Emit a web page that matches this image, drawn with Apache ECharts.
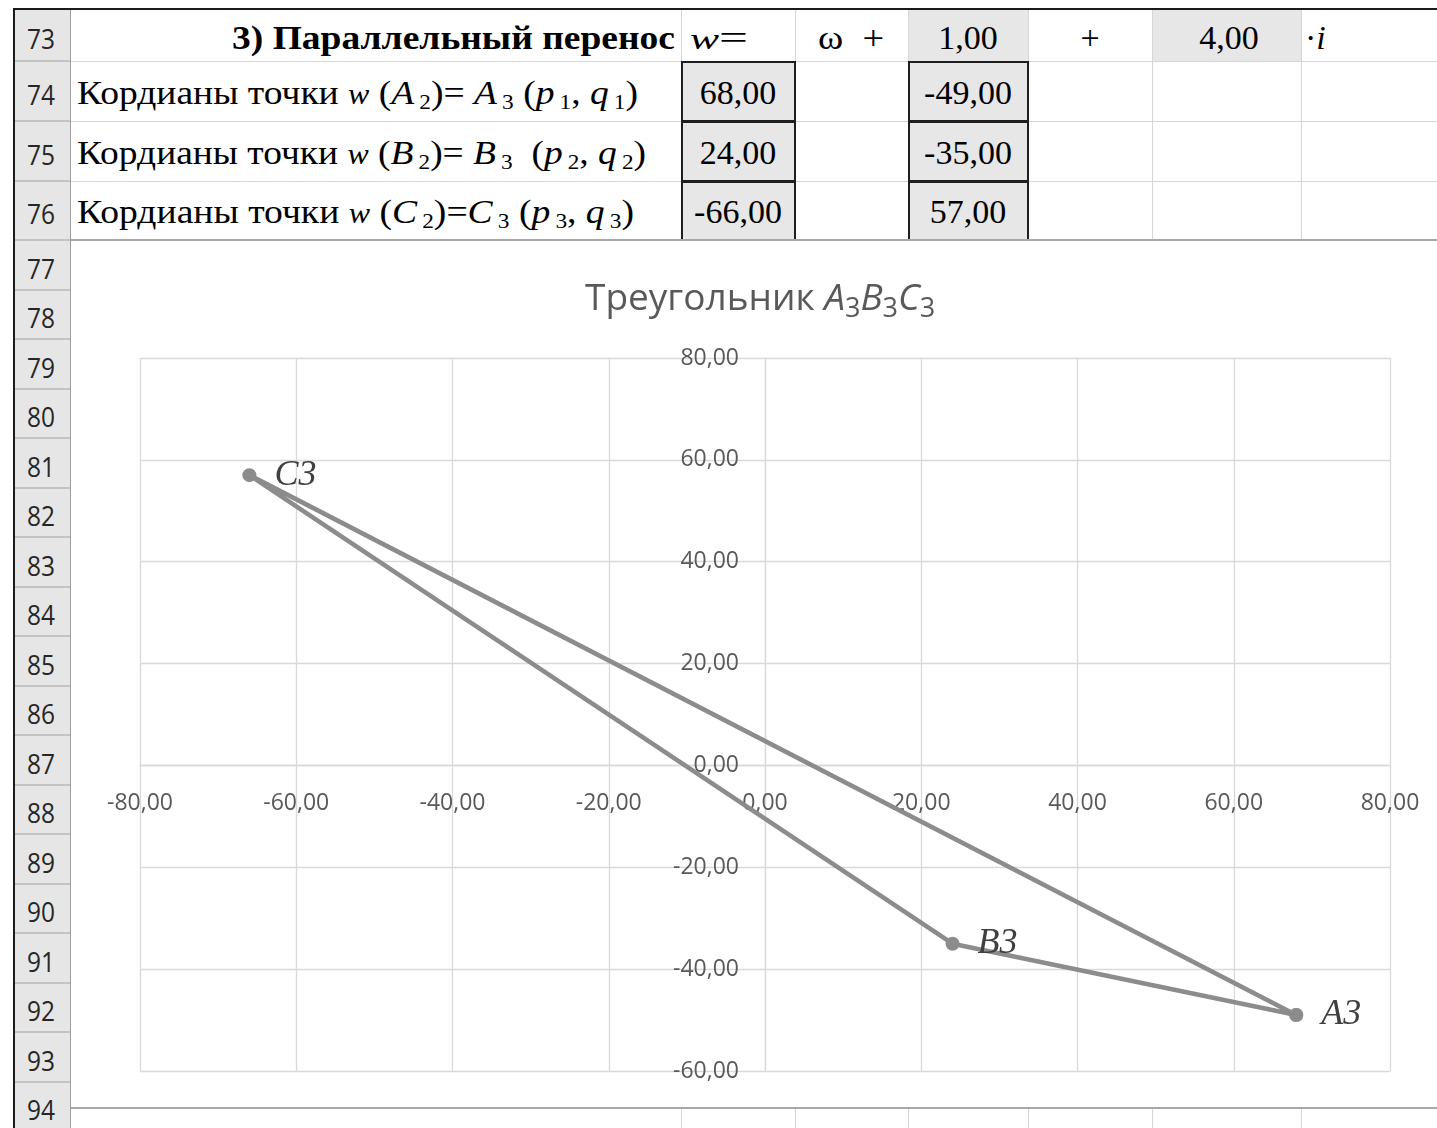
<!DOCTYPE html>
<html><head><meta charset="utf-8">
<script src="https://cdn.jsdelivr.net/npm/echarts@6/dist/echarts.min.js"></script>
<style>
html,body{margin:0;padding:0;background:#fff;width:1437px;height:1128px;overflow:hidden;position:relative}
.box{position:absolute;box-sizing:border-box}
.t{position:absolute;white-space:nowrap;line-height:1;font-family:'Liberation Serif','Times New Roman',serif;font-size:34px;color:#000;transform-origin:0 50%}
.rn{position:absolute;white-space:nowrap;line-height:1;font-family:'Open Sans',sans-serif;font-size:27px;color:#262626;transform-origin:0 50%}
.s{font-size:0.62em;position:relative;top:0.22em;margin-left:0.22em}
.w{font-size:0.85em}
b{font-weight:bold}
</style></head><body>
<div id="sheet"></div>
<div id="chart" style="position:absolute;left:71px;top:242px;width:1366px;height:865px;background:#fff"></div>
<script>
// ---------- data ----------
const pointLetters = ['A', 'B', 'C'];
const pointLabels = ['A3', 'B3', 'C3'];
const pValues = [68, 24, -66];
const qValues = [-49, -35, 57];
const shiftRe = 1;
const shiftIm = 4;
const rowNumbers = [73,74,75,76,77,78,79,80,81,82,83,84,85,86,87,88,89,90,91,92,93,94];
const xRange = [-80, 80];
const yRange = [-60, 80];
const tickStep = 20;

// ---------- helpers ----------
const fmt = v => v.toFixed(2).replace('.', ',');
const sheet = document.getElementById('sheet');
function box(x, y, w, h, css) {
  const d = document.createElement('div');
  d.className = 'box';
  d.style.cssText += `left:${x}px;top:${y}px;width:${w}px;height:${h}px;` + (css || '');
  sheet.appendChild(d);
  return d;
}
const texts = [];
function txt(html, o) {
  const d = document.createElement('div');
  d.className = o.cls || 't';
  d.innerHTML = html;
  if (o.css) d.style.cssText += o.css;
  sheet.appendChild(d);
  texts.push({el: d, o});
}
function layoutTexts() {
  texts.forEach(({el, o}) => {
    el.style.transform = 'none';
    const r = el.getBoundingClientRect();
    const nw = r.width, nh = r.height;
    const w = o.w || nw;
    const k = o.w ? o.w / nw : 1;
    const left = o.x0 !== undefined ? o.x0 : o.cx - w / 2;
    el.style.left = left + 'px';
    el.style.top = (o.yc - nh / 2) + 'px';
    el.style.transform = `scaleX(${k})`;
  });
}

// ---------- sheet geometry ----------
const colX = [681, 795, 908, 1028, 1152, 1301];
const rowTops = [10, 61, 121, 181, 240];
for (let k = 1; k <= 18; k++) rowTops.push(Math.round(240 + k * 49.5));

// header column
box(15, 10, 55, 1118, 'background:#e6e6e6');
rowTops.slice(1).forEach(y => box(15, y - 1, 55, 2, 'background:#c3c3c3'));
box(70, 10, 1, 1118, 'background:#9e9e9e');
// frame
box(13, 8, 2, 1120, 'background:#1a1a1a');
box(13, 8, 1424, 2, 'background:#1a1a1a');

// fills row 73
box(908, 10, 120, 51, 'background:#e7e7e7');
box(1152, 10, 149, 51, 'background:#e7e7e7');
// gridlines rows 73-76
[61, 121, 181].forEach(y => box(71, y, 1366, 1, 'background:#d6d6d6'));
colX.forEach(x => box(x, 10, 1, 230, 'background:#d6d6d6'));
colX.forEach(x => box(x, 1109, 1, 19, 'background:#d6d6d6'));
// bordered value cells
[[681, 795], [908, 1028]].forEach(([a, b]) => {
  [61, 121, 181].forEach((y, i) => {
    const y2 = [121, 181, 240][i];
    box(a, y, b - a + 1, y2 - y + 1, 'background:#e7e7e7;border:2px solid #1e1e1e');
  });
});
// chart object border
box(71, 239, 1366, 2, 'background:#a8a8a8');
box(71, 1107, 1366, 2, 'background:#a8a8a8');

// row numbers
rowNumbers.forEach((n, i) => {
  const yc = (rowTops[i] + (rowTops[i + 1] || 1128)) / 2 + 3;
  txt(String(n), {cls: 'rn', cx: 41, yc, w: 28});
});

// row 73
txt('<b>3) Параллельный перенос</b>', {x0: 232, w: 443, yc: 38});
txt('<i class="w">w</i>=', {x0: 690, w: 58, yc: 38});
txt('ω&nbsp; +', {x0: 818, w: 66, yc: 38});
txt(fmt(shiftRe), {cx: 968, yc: 38});
txt('+', {cx: 1090, yc: 38});
txt(fmt(shiftIm), {cx: 1229, yc: 38});
txt('·<i>i</i>', {x0: 1305, yc: 38});

// rows 74-76
const rowYc = [93, 153, 212];
const rowW = [561, 569, 557];
pointLetters.forEach((L, i) => {
  const n = i + 1;
  const mid = i === 2 ? `)=<i>${L}</i><span class="s">3</span>` :
    (i === 1 ? `)= <i>${L}</i><span class="s">3</span>&nbsp;` : `)= <i>${L}</i><span class="s">3</span>`);
  const html = `Кордианы точки <i class="w">w</i> (<i>${L}</i><span class="s">2</span>${mid} (<i>p</i><span class="s">${n}</span>, <i>q</i><span class="s">${n}</span>)`;
  txt(html, {x0: 77, w: rowW[i], yc: rowYc[i]});
  txt(fmt(pValues[i]), {cx: 738, yc: rowYc[i]});
  txt(fmt(qValues[i]), {cx: 968, yc: rowYc[i]});
});

layoutTexts();
if (document.fonts && document.fonts.ready) document.fonts.ready.then(layoutTexts);

// ---------- chart ----------
const chartEl = document.getElementById('chart');
const chart = echarts.init(chartEl, null, {renderer: 'canvas'});
const G = {left: 69, right: 47, top: 116, bottom: 36};
const plotW = chartEl.clientWidth - G.left - G.right;
const plotH = chartEl.clientHeight - G.top - G.bottom;
// axes cross at zero: shift each axis from its edge to the other axis' zero
const xAxisOffset = -plotH * (0 - yRange[0]) / (yRange[1] - yRange[0]);
const yAxisOffset = -plotW * (0 - xRange[0]) / (xRange[1] - xRange[0]);

const seriesData = pValues.map((p, i) => ({value: [p, qValues[i]], name: pointLabels[i]}));
seriesData.push({value: [pValues[0], qValues[0]], name: '', label: {show: false}});
const axisFont = {fontFamily: 'Open Sans', fontSize: 23, color: '#595959'};
const gridColor = '#d9d9d9';
chart.setOption({
  animation: false,
  title: {
    text: 'Треугольник ' + pointLetters.map(l => `{i|${l}}{s|3}`).join(''),
    left: 514, top: 34, padding: 0,
    textStyle: {
      fontFamily: 'Open Sans', fontSize: 37, fontWeight: 'normal', color: '#595959',
      rich: {
        i: {fontFamily: 'Open Sans', fontStyle: 'italic', fontSize: 37, color: '#595959'},
        s: {fontFamily: 'Open Sans', fontSize: 27, color: '#595959', padding: [20, 0, 0, 0]}
      }
    }
  },
  grid: Object.assign({containLabel: false, outerBoundsMode: 'none'}, G),
  xAxis: {
    type: 'value', min: xRange[0], max: xRange[1], interval: tickStep,
    position: 'bottom', offset: xAxisOffset,
    axisLine: {onZero: false, lineStyle: {color: gridColor, width: 1.3}},
    axisTick: {show: false},
    splitLine: {lineStyle: {color: gridColor, width: 1.3}},
    axisLabel: Object.assign({formatter: fmt, margin: 27, showMinLabel: true, showMaxLabel: true}, axisFont)
  },
  yAxis: {
    type: 'value', min: yRange[0], max: yRange[1], interval: tickStep,
    position: 'left', offset: yAxisOffset,
    axisLine: {onZero: false, lineStyle: {color: gridColor, width: 1.3}},
    axisTick: {show: false},
    splitLine: {lineStyle: {color: gridColor, width: 1.3}},
    axisLabel: Object.assign({formatter: fmt, margin: 26, showMinLabel: true, showMaxLabel: true}, axisFont)
  },
  series: [{
    type: 'line',
    data: seriesData,
    symbol: 'circle', symbolSize: 14,
    itemStyle: {color: '#8c8c8c'},
    lineStyle: {color: '#8c8c8c', width: 4.6},
    label: {
      show: true, position: 'right', distance: 18,
      formatter: p => p.name,
      fontFamily: 'Liberation Serif', fontStyle: 'italic', fontSize: 36, color: '#404040'
    },
    emphasis: {disabled: true}
  }]
});
</script>
</body></html>
